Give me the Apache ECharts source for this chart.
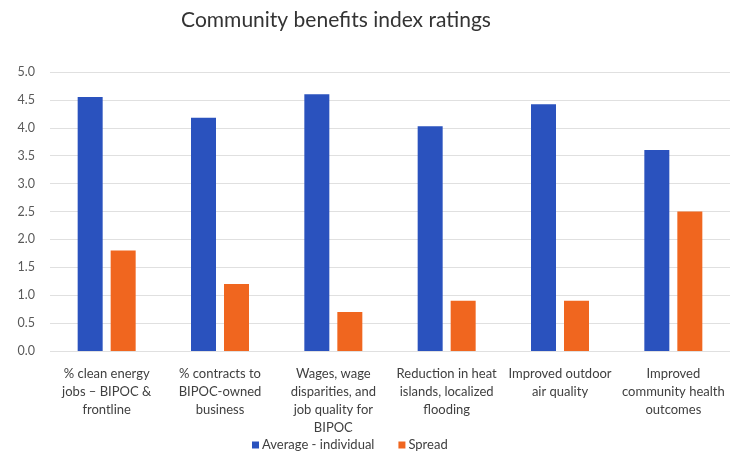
<!DOCTYPE html>
<html><head><meta charset="utf-8">
<script src="https://cdn.jsdelivr.net/npm/echarts@6/dist/echarts.min.js"></script>
<style>html,body{margin:0;padding:0;background:#fff}#c{width:738px;height:456px}</style>
</head><body><div id="c"></div>
<script>
const categories = [
  "% clean energy\njobs – BIPOC &\nfrontline",
  "% contracts to\nBIPOC-owned\nbusiness",
  "Wages, wage\ndisparities, and\njob quality for\nBIPOC",
  "Reduction in heat\nislands, localized\nflooding",
  "Improved outdoor\nair quality",
  "Improved\ncommunity health\noutcomes"
];
const averageIndividual = [4.55, 4.18, 4.6, 4.03, 4.42, 3.6];
const spread = [1.8, 1.2, 0.7, 0.9, 0.9, 2.5];
const yTicks = {min: 0, max: 5, interval: 0.5};

const chart = echarts.init(document.getElementById('c'));
chart.setOption({
  animation: false,
  textStyle: {fontFamily: 'Lato'},
  title: {
    text: 'Community benefits index ratings',
    left: 331, top: 5, textAlign: 'center',
    textStyle: {fontFamily: 'Lato', fontSize: 21, fontWeight: 'normal', color: '#333'}
  },
  legend: {
    data: ['Average - individual', 'Spread'],
    left: 252, top: 437, padding: 0,
    itemWidth: 7, itemHeight: 7, itemGap: 24,
    icon: 'rect',
    textStyle: {fontFamily: 'Lato', fontSize: 13, lineHeight: 16, color: '#404040', padding: [0,0,0,-2]}
  },
  grid: {left: 50, right: 8, top: 72, bottom: 105, containLabel: false},
  xAxis: {
    type: 'category', data: categories,
    axisLine: {show: false}, axisTick: {show: false},
    axisLabel: {interval: 0, color: '#404040', fontSize: 13, lineHeight: 18, margin: 14, fontFamily: 'Lato'}
  },
  yAxis: {
    type: 'value', min: yTicks.min, max: yTicks.max, interval: yTicks.interval,
    axisLabel: {formatter: v => v.toFixed(1), color: '#595959', fontSize: 12.5, margin: 15, fontFamily: 'Lato'},
    splitLine: {lineStyle: {color: '#e0e0e0'}},
    axisLine: {show: false}, axisTick: {show: false}
  },
  series: [
    {name: 'Average - individual', type: 'bar', data: averageIndividual, barWidth: 25, barGap: '32%', itemStyle: {color: '#2A52BE'}},
    {name: 'Spread', type: 'bar', data: spread, barWidth: 25, itemStyle: {color: '#F0661F'}}
  ]
});
</script></body></html>
